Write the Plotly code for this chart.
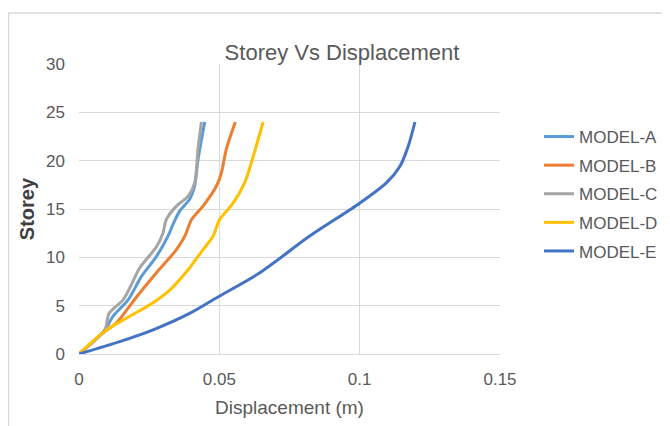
import plotly.graph_objects as go

# ---- data ----
models = ["MODEL-A", "MODEL-B", "MODEL-C", "MODEL-D", "MODEL-E"]
colors = ["#5B9BD5", "#ED7D31", "#A5A5A5", "#FFC000", "#4472C4"]

a_storey = [0, 2.5, 3.9, 5.6, 8.0, 10.1, 12.2, 13.4, 14.8, 16.0, 17.4, 20.1, 24]
a_disp = [0, 0.0092, 0.0121, 0.0175, 0.0222, 0.0276, 0.0317, 0.0335, 0.0359, 0.0394, 0.0412, 0.0424, 0.0448]

b_storey = [0, 2.4, 3.2, 5.9, 8.4, 10.8, 12.2, 13.9, 15.3, 17.4, 18.7, 21.2, 24]
b_disp = [0, 0.0095, 0.0133, 0.0205, 0.0276, 0.0347, 0.0377, 0.0401, 0.0442, 0.0490, 0.0507, 0.0525, 0.0557]

c_storey = [0, 2.5, 4.2, 5.6, 7.2, 8.9, 11.1, 12.5, 13.9, 15.3, 16.3, 17.7, 21.2, 24]
c_disp = [0, 0.0092, 0.0107, 0.0157, 0.0187, 0.0216, 0.0276, 0.0299, 0.0311, 0.0347, 0.0388, 0.0412, 0.0424, 0.0436]

d_storey = [0, 2.5, 3.9, 5.3, 6.6, 8.5, 10.8, 12.2, 13.9, 15.6, 17.7, 19.8, 24]
d_disp = [0, 0.0098, 0.0181, 0.0264, 0.0323, 0.0383, 0.0442, 0.0478, 0.0501, 0.0549, 0.0590, 0.0614, 0.0656]

e_storey = [0, 1.28, 2.5, 4.2, 5.9, 8.4, 12.2, 15.6, 17.7, 19.4, 21.5, 24]
e_disp = [0, 0.0145, 0.0264, 0.0394, 0.0495, 0.0644, 0.0822, 0.1000, 0.1095, 0.1143, 0.1173, 0.1197]

x_ticks = [0, 0.05, 0.1, 0.15]
x_tick_labels = ["0", "0.05", "0.1", "0.15"]
y_ticks = [0, 5, 10, 15, 20, 25, 30]

series = [(a_disp, a_storey), (b_disp, b_storey), (c_disp, c_storey), (d_disp, d_storey), (e_disp, e_storey)]

FONT = "Liberation Sans, Arial, sans-serif"
TXT = "#595959"

# page has an 8px body margin; figure shifted by 8px, right edge allowed to run past the window
OFF = 8
W, H = 670, 426 - OFF
ML, MR, MT, MB = 71, 178, 56, 72
PW, PH = W - ML - MR, H - MT - MB

fig = go.Figure()
for name, col, (xs, ys) in zip(models, colors, series):
    fig.add_trace(go.Scatter(
        x=xs, y=ys, name=name, mode="lines", legendgroup=name,
        line=dict(color=col, width=3, shape="spline", smoothing=0.8),
    ))

def px2paper_x(px):
    return (px - ML) / PW

def px2paper_y(py):
    return 1 - (py - MT) / PH

fig.update_layout(
    width=W, height=H,
    margin=dict(l=ML, r=MR, t=MT, b=MB),
    paper_bgcolor="white", plot_bgcolor="white",
    title=dict(text="Storey Vs Displacement", x=334 / W, xref="container", xanchor="center",
               y=1 - 44 / H, yref="container", yanchor="middle",
               font=dict(family=FONT, size=22, color=TXT)),
    xaxis=dict(range=[0, 0.15], tickvals=x_ticks, ticktext=x_tick_labels,
               showgrid=True, gridcolor="#D9D9D9", gridwidth=1,
               showline=True, linecolor="#D9D9D9", linewidth=1,
               zeroline=False, ticks="", ticklabelstandoff=10, automargin=False,
               tickfont=dict(family=FONT, size=17, color=TXT),
               title=dict(text="Displacement (m)", standoff=12,
                          font=dict(family=FONT, size=19, color=TXT))),
    yaxis=dict(range=[0, 30], tickvals=y_ticks,
               showgrid=True, gridcolor="#D9D9D9", gridwidth=1,
               showline=False, zeroline=False, ticks="", ticklabelstandoff=13, automargin=False,
               tickfont=dict(family=FONT, size=17, color=TXT),
               title=dict(text="<b>Storey</b>", standoff=6,
                          font=dict(family=FONT, size=20, color="#404040"))),
    legend=dict(x=px2paper_x(531), y=px2paper_y(111), xanchor="left", yanchor="top",
                font=dict(family=FONT, size=17, color=TXT),
                tracegroupgap=3.5, bgcolor="rgba(0,0,0,0)"),
    showlegend=True,
    shapes=[
        dict(type="line", xref="paper", yref="paper",
             x0=px2paper_x(0.5), x1=px2paper_x(0.5), y0=px2paper_y(5), y1=px2paper_y(H + 5),
             line=dict(color="#D9D9D9", width=1.5)),
        dict(type="line", xref="paper", yref="paper",
             x0=px2paper_x(0), x1=px2paper_x(W + 5), y0=px2paper_y(5), y1=px2paper_y(5),
             line=dict(color="#D9D9D9", width=1.5)),
    ],
)

fig.write_html("out.html")
